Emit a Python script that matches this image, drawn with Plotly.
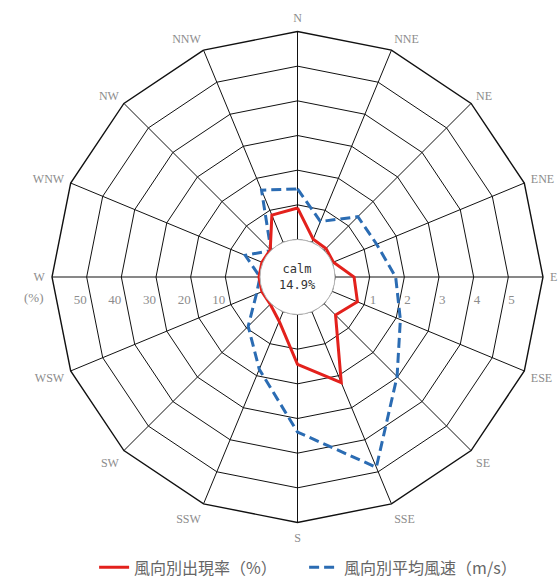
import plotly.graph_objects as go

# 16-point wind directions, clockwise from north
directions = ["N", "NNE", "NE", "ENE", "E", "ESE", "SE", "SSE",
              "S", "SSW", "SW", "WSW", "W", "WNW", "NW", "NNW"]

# Frequency of occurrence by direction (%)
frequency_pct = [9.1, 1.0, 0.8, 0.4, 5.5, 7.9, 4.7, 22.2,
                 14.4, 3.0, 0.3, 0.3, 0.3, 0.3, 0.3, 8.5]

# Mean wind speed by direction (m/s)
mean_speed_ms = [1.46, 0.65, 1.38, 1.39, 1.75, 2.13, 2.98, 4.86,
                 3.39, 1.80, 0.93, 0.20, 0.00, 0.55, 0.00, 1.63]

calm_pct = 14.9

speed_ticks = [1, 2, 3, 4, 5]
speed_range = [0, 6]
pct_ticks = [10, 20, 30, 40, 50]
pct_range = [0, 60]

name_freq = "風向別出現率（%）"
name_speed = "風向別平均風速（m/s）"

W, H = 558, 585
# polar area in pixels
left, right, top, bottom = 52.0, 543.0, 31.5, 522.5
radius_px = (right - left) / 2
hole_px = 37.5
hole = hole_px / radius_px
cx = (left + right) / 2
cy = (top + bottom) / 2

dom_x = [left / W, right / W]
dom_y = [1 - bottom / H, 1 - top / H]

RED = "#e3211c"
BLUE = "#2b6cb3"
GRID = "#111111"
LABEL = "#8c8c8c"
CLEAR = "rgba(0,0,0,0)"
scale_font = dict(family="Liberation Serif", size=13, color=LABEL)


def closed(vals):
    return list(vals) + [vals[0]]


fig = go.Figure()

fig.add_trace(go.Scatterpolar(
    r=closed(mean_speed_ms), theta=closed(directions),
    mode="lines", name=name_speed,
    line=dict(color=BLUE, width=3, dash="10px,5px"),
    subplot="polar", hoverinfo="skip",
))

fig.add_trace(go.Scatterpolar(
    r=closed(frequency_pct), theta=closed(directions),
    mode="lines", name=name_freq,
    line=dict(color=RED, width=3),
    subplot="polar2", hoverinfo="skip",
))

# ring labels: m/s along the east spoke, % along the west spoke
fig.add_trace(go.Scatterpolar(
    r=speed_ticks, theta=["E"] * len(speed_ticks),
    mode="text", text=["<br>" + str(v) for v in speed_ticks],
    textposition="bottom right", textfont=scale_font,
    subplot="polar", showlegend=False, hoverinfo="skip",
))
fig.add_trace(go.Scatterpolar(
    r=pct_ticks, theta=["W"] * len(pct_ticks),
    mode="text", text=["<br>" + str(v) for v in pct_ticks],
    textposition="bottom left", textfont=scale_font,
    subplot="polar2", showlegend=False, hoverinfo="skip",
))

common_angular = dict(
    type="category", categoryarray=directions,
    direction="clockwise", rotation=90,
)

fig.update_layout(
    width=W, height=H,
    margin=dict(l=0, r=0, t=0, b=0),
    paper_bgcolor="white",
    polar=dict(
        domain=dict(x=dom_x, y=dom_y),
        hole=hole,
        gridshape="linear",
        bgcolor=CLEAR,
        angularaxis=dict(
            **common_angular,
            showgrid=True, gridcolor=GRID, gridwidth=1.3,
            showline=True, linecolor=GRID, linewidth=1.4,
            ticks="outside", ticklen=4, tickcolor=CLEAR,
            tickfont=dict(family="Liberation Serif", size=12, color=LABEL),
        ),
        radialaxis=dict(
            range=speed_range, tickvals=speed_ticks,
            showgrid=True, gridcolor=GRID, gridwidth=1.3,
            showline=False, ticks="", showticklabels=False,
        ),
    ),
    polar2=dict(
        domain=dict(x=dom_x, y=dom_y),
        hole=hole,
        gridshape="linear",
        bgcolor=CLEAR,
        angularaxis=dict(
            **common_angular,
            showgrid=False, showline=False, showticklabels=False, ticks="",
        ),
        radialaxis=dict(
            range=pct_range, tickvals=pct_ticks,
            showgrid=False, showline=False, ticks="", showticklabels=False,
        ),
    ),
    showlegend=True,
    legend=dict(
        orientation="h", x=0.545, y=0.03, xanchor="center", yanchor="middle",
        font=dict(family="Noto Sans CJK JP", size=16, color="#666666"),
        traceorder="reversed", itemwidth=30, entrywidth=165, bgcolor=CLEAR,
    ),
)

# calm circle in the middle of the rose
fig.add_shape(
    type="circle", xref="paper", yref="paper",
    x0=(cx - hole_px) / W, x1=(cx + hole_px) / W,
    y0=1 - (cy + hole_px) / H, y1=1 - (cy - hole_px) / H,
    line=dict(color="#b5b5b5", width=1), fillcolor="white", layer="above",
)

fig.add_annotation(
    x=cx / W, y=1 - cy / H, xref="paper", yref="paper",
    text=f"calm<br>{calm_pct:.1f}%", showarrow=False,
    font=dict(family="DejaVu Sans Mono", size=12, color="#333333"),
)

# unit label for the percentage scale
fig.add_annotation(
    x=22 / W, y=1 - 297 / H, xref="paper", yref="paper",
    text="(%)", showarrow=False, font=scale_font,
)

fig.write_html("out.html")
